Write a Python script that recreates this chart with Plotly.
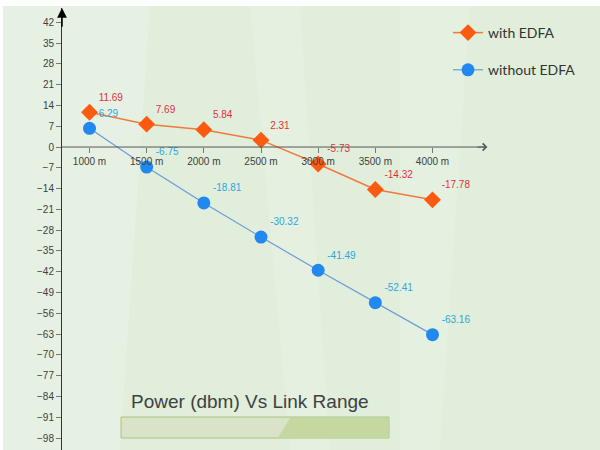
import plotly.graph_objects as go

# Link range (m) and received power (dBm)
link_range = [1000, 1500, 2000, 2500, 3000, 3500, 4000]
range_labels = ["1000 m", "1500 m", "2000 m", "2500 m", "3000 m", "3500 m", "4000 m"]
with_edfa = [11.69, 7.69, 5.84, 2.31, -5.73, -14.32, -17.78]
without_edfa = [6.29, -6.75, -18.81, -30.32, -41.49, -52.41, -63.16]
power_ticks = list(range(-98, 43, 7))

W, H = 600, 450
ML, MT = 62, 8
X_MIN, X_MAX = 759.5, 5465
Y_MIN, Y_MAX = -102.0, 46.8


def px(x):
    """pixel column -> paper x"""
    return (x - ML) / (W - ML)


def py(y):
    """pixel row -> paper y"""
    return (H - y) / (H - MT)


fig = go.Figure()

fig.add_trace(go.Scatter(
    x=link_range, y=with_edfa, name="with EDFA", legendgroup="a",
    mode="lines+markers+text",
    line=dict(color="#f07a3c", width=1.5),
    marker=dict(symbol="diamond", size=13, color="#fb5a10"),
    text=[f"{v:.2f}" for v in with_edfa], textposition="top right",
    textfont=dict(family="Liberation Sans", size=10, color="#e0303c"),
    cliponaxis=False,
))
fig.add_trace(go.Scatter(
    x=link_range, y=without_edfa, name="without EDFA", legendgroup="b",
    mode="lines+markers+text",
    line=dict(color="#6b9bd8", width=1.2),
    marker=dict(symbol="circle", size=13, color="#2188f0"),
    text=[f"{v:.2f}" for v in without_edfa], textposition="top right",
    textfont=dict(family="Liberation Sans", size=10, color="#2ea6dc"),
    cliponaxis=False,
))

shapes = [
    # green backdrop
    dict(type="rect", xref="paper", yref="paper", x0=px(3), x1=px(600), y0=py(6), y1=py(450),
         fillcolor="#e0eedb", line=dict(width=0), layer="below"),
    # soft light streaks
    dict(type="path", xref="paper", yref="paper", layer="below", line=dict(width=0),
         fillcolor="rgba(255,255,255,0.22)",
         path=f"M {px(3)},{py(6)} L {px(150)},{py(6)} L {px(120)},{py(450)} L {px(3)},{py(450)} Z"),
    dict(type="path", xref="paper", yref="paper", layer="below", line=dict(width=0),
         fillcolor="rgba(255,255,255,0.16)",
         path=f"M {px(250)},{py(6)} L {px(300)},{py(6)} L {px(330)},{py(450)} L {px(290)},{py(450)} Z"),
    dict(type="path", xref="paper", yref="paper", layer="below", line=dict(width=0),
         fillcolor="rgba(255,255,255,0.14)",
         path=f"M {px(400)},{py(6)} L {px(470)},{py(6)} L {px(440)},{py(450)} L {px(400)},{py(450)} Z"),
    # horizontal axis through zero
    dict(type="line", xref="x", yref="y", x0=X_MIN, x1=4470, y0=0, y1=0,
         line=dict(color="#555555", width=1)),
    # title bar
    dict(type="rect", xref="paper", yref="paper", x0=px(121), x1=px(389), y0=py(438), y1=py(417),
         fillcolor="#dae3c8", line=dict(color="#a9c47f", width=1)),
    dict(type="path", xref="paper", yref="paper", line=dict(width=0), fillcolor="#c5d8a0",
         path=f"M {px(290)},{py(418)} L {px(388.5)},{py(418)} L {px(388.5)},{py(437.5)} L {px(278)},{py(437.5)} Z"),
]

annotations = [
    # arrow at the end of the horizontal axis
    dict(x=4480, y=0, xref="x", yref="y", ax=4380, ay=0, axref="x", ayref="y",
         showarrow=True, arrowhead=4, arrowsize=1.4, arrowwidth=1, arrowcolor="#555555", text=""),
    # arrow at the top of the vertical axis
    dict(x=X_MIN, y=Y_MAX, xref="x", yref="y", ax=X_MIN, ay=40, axref="x", ayref="y",
         showarrow=True, arrowhead=2, arrowsize=1.3, arrowwidth=1.5, arrowcolor="#000000", text=""),
    dict(x=px(250), y=py(401), xref="paper", yref="paper", xanchor="center", yanchor="middle",
         text="Power (dbm) Vs Link Range", showarrow=False,
         font=dict(family="Liberation Sans", size=19, color="#404040")),
]

fig.update_layout(
    width=W, height=H,
    margin=dict(l=ML, r=0, t=MT, b=0),
    paper_bgcolor="white", plot_bgcolor="rgba(0,0,0,0)",
    shapes=shapes, annotations=annotations,
    showlegend=True,
    legend=dict(x=px(448), y=py(17), xanchor="left", yanchor="top",
                bgcolor="rgba(0,0,0,0)", tracegroupgap=16,
                font=dict(family="Lato", size=14, color="#333333")),
    xaxis=dict(range=[X_MIN, X_MAX], tickvals=link_range, ticktext=range_labels,
               anchor="free", position=(0 - Y_MIN) / (Y_MAX - Y_MIN),
               showline=False, showgrid=False, zeroline=False,
               ticks="outside", ticklen=5, tickcolor="#777777",
               tickfont=dict(family="Liberation Sans", size=10, color="#404040")),
    yaxis=dict(range=[Y_MIN, Y_MAX], tickvals=power_ticks,
               showline=True, linecolor="#333333", linewidth=1,
               showgrid=False, zeroline=False,
               ticks="outside", ticklen=5, tickcolor="#777777",
               tickfont=dict(family="Liberation Sans", size=10, color="#404040")),
)

fig.write_html("out.html")
